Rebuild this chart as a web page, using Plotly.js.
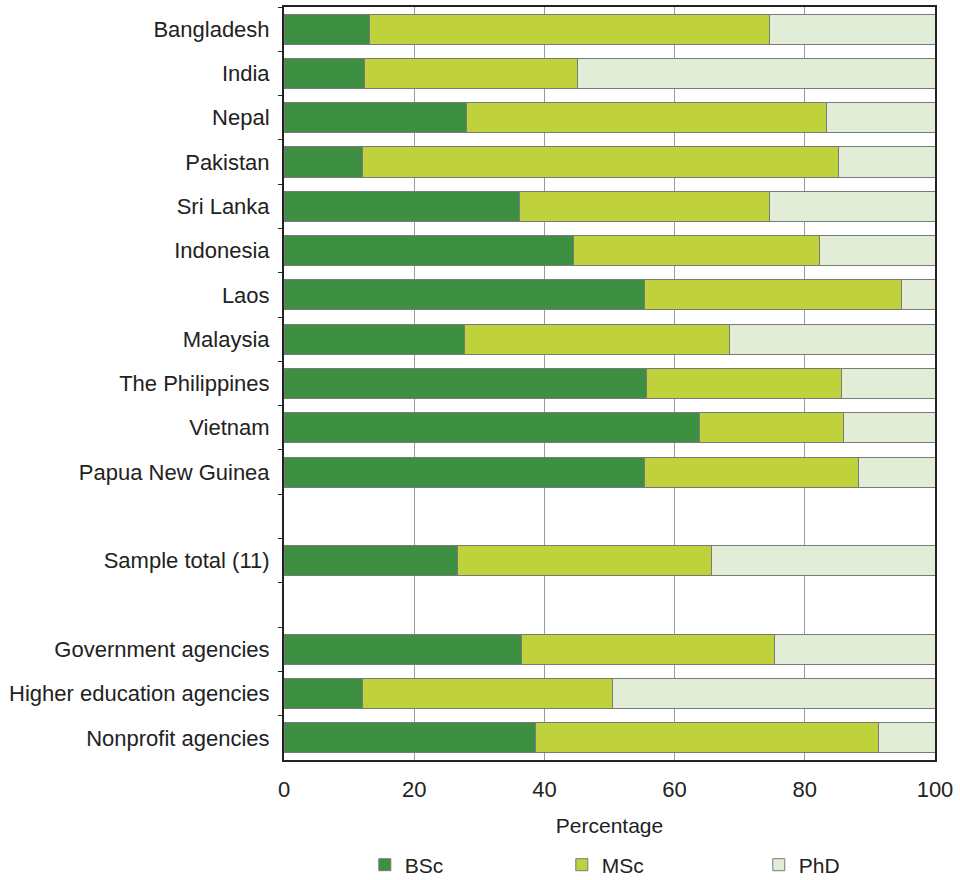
<!DOCTYPE html>
<html>
<head>
<meta charset="utf-8">
<script src="https://cdn.plot.ly/plotly-3.0.1.min.js"></script>
<style>html,body{margin:0;padding:0;background:#fff;}#chart{width:960px;height:880px;}</style>
</head>
<body>
<div id="chart"></div>
<script>
// Categories (blank entries are the empty spacer rows)
const categories = [
  "Bangladesh", "India", "Nepal", "Pakistan", "Sri Lanka", "Indonesia", "Laos",
  "Malaysia", "The Philippines", "Vietnam", "Papua New Guinea", " ",
  "Sample total (11)", "  ",
  "Government agencies", "Higher education agencies", "Nonprofit agencies"
];
const bsc = [13.1, 12.4, 28.1, 12.0, 36.2, 44.4, 55.4, 27.7, 55.7, 63.9, 55.4, null, 26.6, null, 36.5, 12.1, 38.7];
const msc = [61.4, 32.7, 55.3, 73.1, 38.3, 37.9, 39.4, 40.8, 29.9, 22.0, 32.9, null, 39.1, null, 38.8, 38.3, 52.6];
const phd = [25.5, 54.9, 16.6, 14.9, 25.5, 17.7, 5.2, 31.5, 14.4, 14.1, 11.7, null, 34.3, null, 24.7, 49.6, 8.7];
const seriesNames = ["BSc", "MSc", "PhD"];
const xTicks = [0, 20, 40, 60, 80, 100];

const colors = ["#3d8f41", "#bfd13b", "#e1edd6"];
const vals = [bsc, msc, phd];
const traces = vals.map((v, i) => ({
  type: "bar",
  orientation: "h",
  name: seriesNames[i],
  y: categories,
  x: v,
  marker: {color: colors[i], line: {color: "#7a7a7a", width: 1}},
  hoverinfo: "x+y+name"
}));

const layout = {
  width: 960, height: 880,
  margin: {l: 284, r: 25, t: 7, b: 120},
  barmode: "stack",
  bargap: 0.32,
  paper_bgcolor: "#fff",
  plot_bgcolor: "#fff",
  font: {family: "Liberation Sans, Arial, sans-serif", size: 22, color: "#222"},
  xaxis: {
    range: [0, 100],
    tickvals: xTicks,
    ticktext: xTicks.map(String),
    showgrid: true, gridcolor: "#9a9a9a", gridwidth: 1,
    zeroline: false,
    showline: true, linecolor: "#222", linewidth: 2, mirror: true,
    ticks: "", ticklabelstandoff: 9,
    automargin: false,
    tickfont: {size: 22, color: "#222"},
    title: {text: "Percentage", font: {size: 21, color: "#222"}, standoff: 17}
  },
  yaxis: {
    type: "category",
    autorange: "reversed",
    showgrid: false,
    zeroline: false,
    automargin: false,
    showline: true, linecolor: "#222", linewidth: 2, mirror: true,
    ticks: "outside", tickson: "boundaries", ticklen: 4, tickcolor: "#222",
    ticklabelstandoff: 8,
    tickfont: {size: 22, color: "#222"}
  },
  legend: {
    orientation: "h",
    xref: "container", yref: "container",
    x: 0.380, xanchor: "left",
    y: 0.017, yanchor: "middle",
    entrywidth: 152, entrywidthmode: "pixels",
    font: {size: 21, color: "#222"},
    traceorder: "normal"
  },
  showlegend: true
};

Plotly.newPlot("chart", traces, layout, {displayModeBar: false, staticPlot: true});
</script>
</body>
</html>
